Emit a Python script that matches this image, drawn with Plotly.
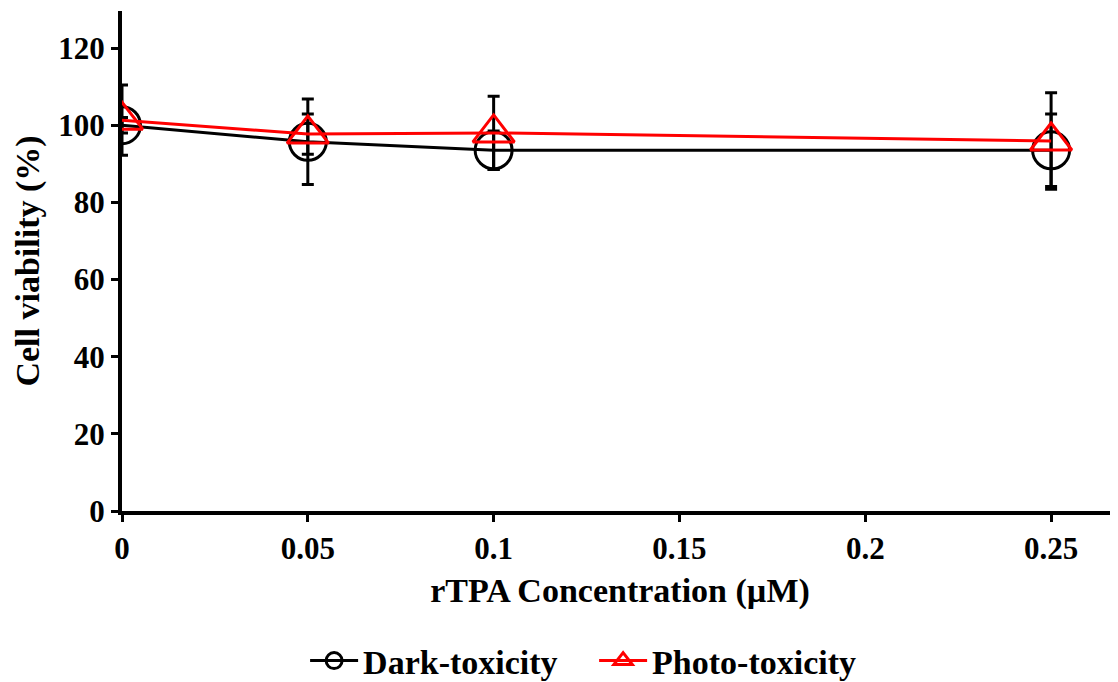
import plotly.graph_objects as go

conc = [0, 0.05, 0.1, 0.25]
dark = [100.0, 95.7, 93.5, 93.5]
dark_err = [2.0, 11.1, 5.0, 9.4]
photo = [101.3, 97.7, 98.0, 95.9]
photo_err = [9.1, 5.2, 9.5, 12.5]
xticks = [0, 0.05, 0.1, 0.15, 0.2, 0.25]
xticklabels = ["0", "0.05", "0.1", "0.15", "0.2", "0.25"]
yticks = [0, 20, 40, 60, 80, 100, 120]

FONT = "Liberation Serif, Times New Roman, serif"

fig = go.Figure()
fig.add_trace(go.Scatter(
    x=conc, y=dark, name="Dark-toxicity", mode="lines+markers",
    line=dict(color="black", width=3),
    marker=dict(symbol="circle-open", size=37, color="black", line=dict(width=3, color="black")),
    error_y=dict(type="data", array=dark_err, visible=True, color="black", thickness=3, width=6),
))
fig.add_trace(go.Scatter(
    x=conc, y=photo, name="Photo-toxicity", mode="lines+markers",
    line=dict(color="#ff0000", width=3),
    marker=dict(symbol="triangle-up-open", size=36, color="#ff0000", line=dict(width=3, color="#ff0000")),
    error_y=dict(type="data", array=photo_err, visible=True, color="black", thickness=3, width=6),
))

# page body has an 8px margin, so the figure is sized/offset to compensate
fig.update_layout(
    width=1110, height=674,
    margin=dict(l=114, r=0, t=3, b=171, autoexpand=False),
    plot_bgcolor="white", paper_bgcolor="white",
    font=dict(family=FONT, size=26, color="black", weight="bold"),
    showlegend=True,
    legend=dict(orientation="h", x=0.474, xanchor="center", y=-0.242, yanchor="top",
                font=dict(family=FONT, size=34, color="black", weight="bold"),
                itemwidth=48, traceorder="normal",
                entrywidth=226, entrywidthmode="pixels"),
)
fig.update_xaxes(
    range=[0, 0.268], tickvals=xticks, ticktext=xticklabels,
    showline=True, linecolor="black", linewidth=4,
    ticks="outside", ticklen=7, tickwidth=3, tickcolor="black",
    showgrid=False, zeroline=False, automargin=False,
    tickfont=dict(family=FONT, size=31, color="black", weight="bold"),
    title=dict(text="rTPA Concentration (µM)", standoff=14,
               font=dict(family=FONT, size=34, color="black", weight="bold")),
)
fig.update_yaxes(
    range=[0, 129.6], tickvals=yticks,
    showline=True, linecolor="black", linewidth=4,
    ticks="outside", ticklen=7, tickwidth=3, tickcolor="black",
    showgrid=False, zeroline=False, automargin=False,
    tickfont=dict(family=FONT, size=31, color="black", weight="bold"),
    title=dict(text="Cell viability (%)", standoff=9,
               font=dict(family=FONT, size=34, color="black", weight="bold")),
)

fig.write_html("out.html")
